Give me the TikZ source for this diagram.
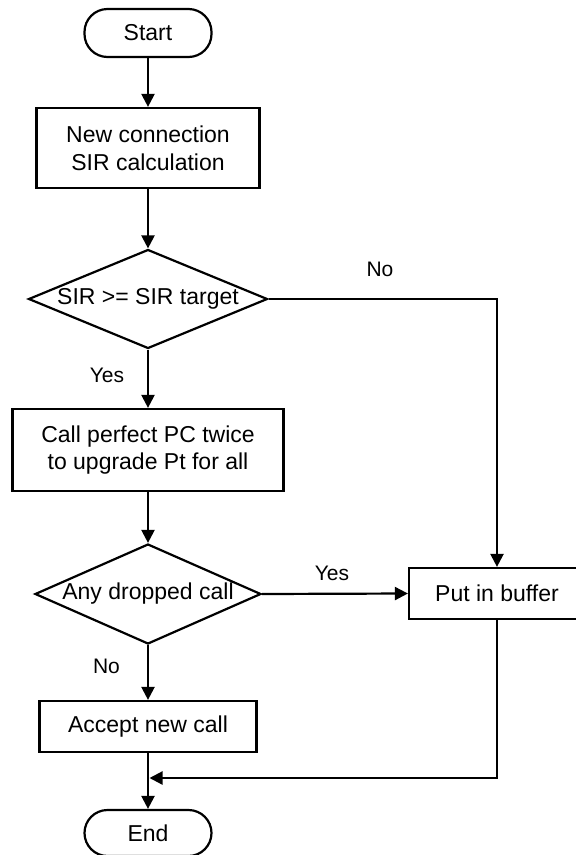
\documentclass[tikz,border=0pt]{standalone}
\usepackage{fontspec}
\setmainfont{Liberation Sans}
\usetikzlibrary{arrows.meta,shapes.geometric}
\begin{document}
\begin{tikzpicture}[x=1pt,y=-1pt,
  every node/.style={font=\fontsize{23}{27.6}\selectfont},
  box/.style={draw,line width=2.2pt,rectangle,inner sep=0pt,align=center},
  term/.style={draw,line width=2.2pt,rectangle,rounded corners=23pt,inner sep=0pt},
  decision/.style={draw,line width=2.2pt,shape=diamond,inner sep=0pt},
  lbl/.style={font=\fontsize{21}{25}\selectfont},
  flow/.style={line width=2.2pt,-{Triangle[length=13pt,width=13pt]}},
  plain/.style={line width=2.2pt}]
\clip (0,0) rectangle (576,855);
\fill[white] (0,0) rectangle (576,855);
\node[term,minimum width=127pt,minimum height=48pt] (start) at (148,33) {Start};
\node[box,minimum width=223pt,minimum height=80pt] (b1) at (148,148) {New connection\\SIR calculation};
\node[decision,aspect=2.41,minimum width=239pt,minimum height=99pt] (d1) at (148,299) {SIR >= SIR target};
\node[box,minimum width=271pt,minimum height=82pt] (b2) at (148,450) {Call perfect PC twice\\to upgrade Pt for all};
\node[decision,aspect=2.26,minimum width=226pt,minimum height=100pt] (d2) at (148,594) {Any dropped call};
\node[box,minimum width=176pt,minimum height=51pt] (buf) at (497,593.5) {Put in buffer};
\node[box,minimum width=217pt,minimum height=51pt] (acc) at (148,726.5) {Accept new call};
\node[term,minimum width=127pt,minimum height=46pt] (end) at (148,833) {End};
\coordinate (join) at (149.5,778);
\draw[flow] (start.south) -- (b1.north);
\draw[flow] (b1.south) -- (d1.north);
\draw[flow] (d1.south) -- (b2.north);
\draw[flow] (d1.east) -| (buf.north);
\draw[flow] (b2.south) -- (d2.north);
\draw[flow] (d2.east) -- (buf.west);
\draw[flow] (d2.south) -- (acc.north);
\draw[flow] (acc.south) -- (end.north);
\draw[flow] (buf.south) |- (join);
\node[lbl] (lno1) at (380,269) {No};
\node[lbl] (lyes1) at (107,375) {Yes};
\node[lbl] (lyes2) at (332,573) {Yes};
\node[lbl] (lno2) at (106.5,666) {No};
\end{tikzpicture}
\end{document}
